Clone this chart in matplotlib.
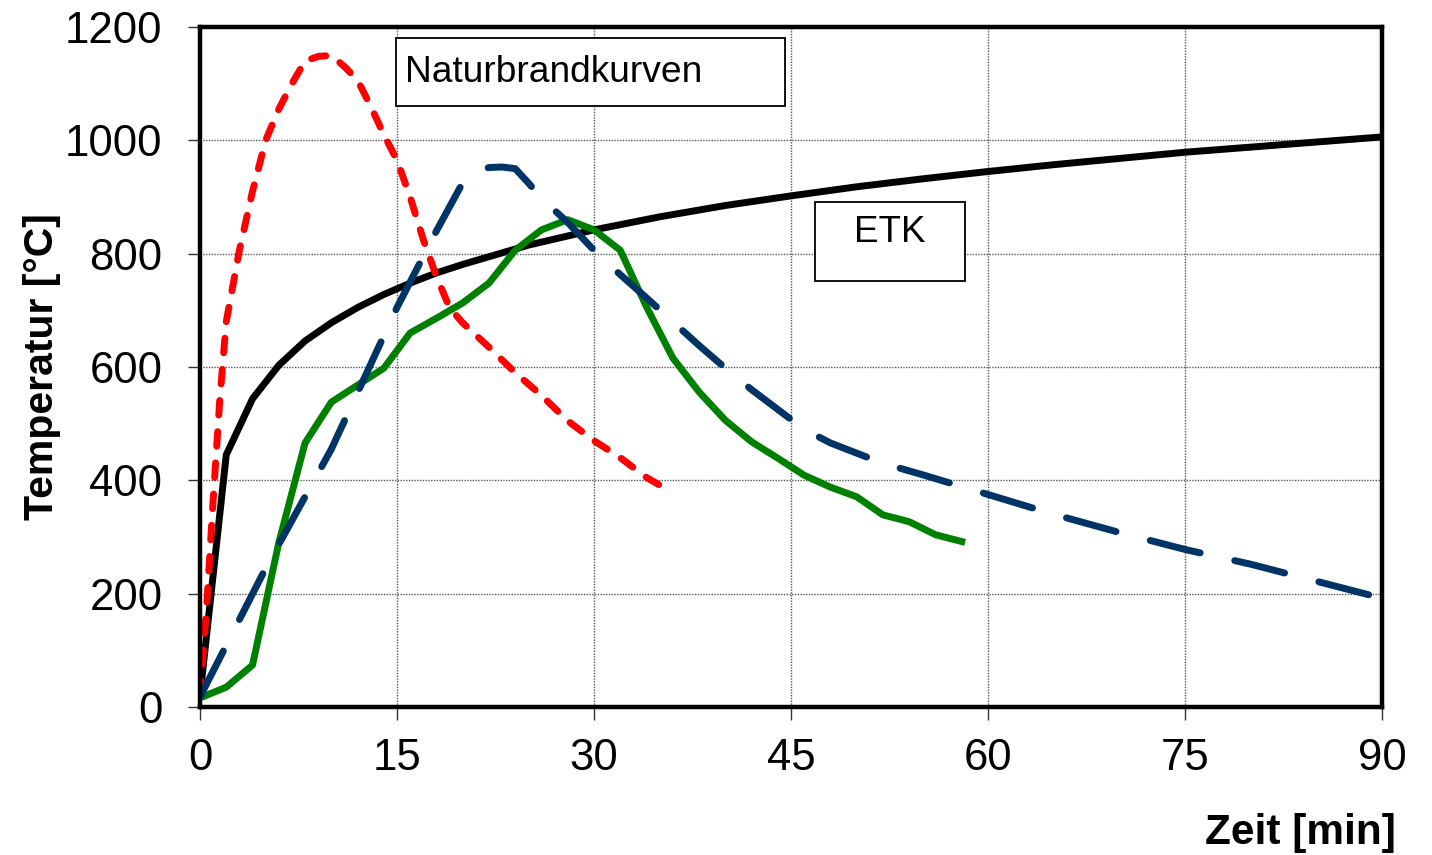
import matplotlib
matplotlib.use("Agg")
import matplotlib.pyplot as plt
from matplotlib.patches import Rectangle

# ---------------- data ----------------
etk_t = [0, 2, 4, 6, 8, 10, 12, 14, 16, 18, 20, 25, 30, 35, 40, 45, 50, 55, 60, 65, 70, 75, 80, 85, 90]
etk_T = [20, 445, 544, 603, 646, 678, 705, 728, 748, 766, 781, 815, 842, 865, 885, 902, 918, 932, 945, 957, 968, 979, 988, 997, 1006]

red_t = [0, 0.5, 1, 1.5, 2, 3, 4, 5, 6, 7, 8, 9, 10, 11, 12, 13, 14, 15, 16, 17, 18, 19, 20, 22, 24, 26, 28, 30, 32, 34, 36]
red_T = [20, 175, 365, 540, 680, 806, 910, 1000, 1055, 1100, 1140, 1148, 1150, 1130, 1106, 1060, 1010, 965, 900, 825, 760, 705, 678, 635, 590, 550, 505, 470, 440, 405, 378]

blue_t = [0, 5, 10, 15, 18, 20, 21, 22, 23, 24, 25, 26, 28, 30, 32, 34, 36, 38, 40, 42, 44, 46, 48, 50, 52, 55, 60, 65, 70, 75, 80, 85, 90]
blue_T = [18, 245, 455, 705, 840, 925, 945, 952, 953, 950, 925, 898, 855, 806, 763, 722, 680, 638, 598, 560, 525, 490, 466, 448, 430, 410, 375, 340, 308, 278, 252, 222, 192]

green_t = list(range(0, 60, 2))
green_T = [16, 35, 74, 290, 466, 538, 568, 598, 660, 686, 713, 748, 806, 842, 860,
           842, 806, 706, 616, 556, 506, 468, 439, 409, 388, 371, 339, 327, 304, 292]

x_ticks = [0, 15, 30, 45, 60, 75, 90]
y_ticks = [0, 200, 400, 600, 800, 1000, 1200]

label_box1 = "Naturbrandkurven"
label_box2 = "ETK"
xlabel = "Zeit [min]"
ylabel = "Temperatur [°C]"

# ---------------- figure ----------------
plt.rcParams['font.family'] = ['Liberation Sans', 'DejaVu Sans']
fig = plt.figure(figsize=(14.32, 8.55), dpi=100)
ax = fig.add_axes([200/1432, 1-707/855, 1182/1432, 680/855])

LW = 5.0
ax.plot(etk_t, etk_T, color='black', lw=LW, solid_joinstyle='round', zorder=3)
ax.plot(green_t, green_T, color='#008000', lw=LW, solid_joinstyle='round', zorder=4)
ax.plot(red_t, red_T, color='#FF0000', lw=LW, dashes=(2.1, 2.4),
        dash_capstyle='round', zorder=5)
ax.plot(blue_t, blue_T, color='#003366', lw=LW, dashes=(7.4, 5.1),
        dash_capstyle='round', zorder=6)

ax.set_xlim(0, 90)
ax.set_ylim(0, 1200)
ax.set_xticks(x_ticks)
ax.set_yticks(y_ticks)
ax.set_xticklabels([str(v) for v in x_ticks])
ax.set_yticklabels([str(v) for v in y_ticks])
ax.tick_params(axis='both', direction='out', length=9, width=1, color='#333333',
               labelsize=31.5, pad=13)
ax.tick_params(axis='y', pad=18)

ax.grid(True, color='#555555', linestyle=(0, (1, 1)), lw=1.0, zorder=1)
ax.set_axisbelow(True)
for sp in ax.spines.values():
    sp.set_linewidth(3.2)
    sp.set_color('black')
    sp.set_zorder(7)

# text boxes
ax.add_patch(Rectangle((14.92, 1060.6), 44.54-14.92, 1180.6-1060.6, fill=True,
                       facecolor='white', edgecolor='black', lw=1.3, zorder=8))
ax.text(15.6, 1120, label_box1, fontsize=26.7, ha='left', va='center', zorder=9)
ax.add_patch(Rectangle((46.83, 751.7), 58.25-46.83, 891-751.7, fill=True,
                       facecolor='white', edgecolor='black', lw=1.3, zorder=8))
ax.text(52.5, 838, label_box2, fontsize=26.5, ha='center', va='center', zorder=9)

lab_font = ['Liberation Sans Narrow', 'Liberation Sans', 'DejaVu Sans']
fig.text(42/1432, 1-367/855, ylabel, rotation=90, ha='center', va='center',
         fontsize=29.5, fontweight='bold', family=lab_font)
fig.text(1396/1432, 1-833/855, xlabel, ha='right', va='center',
         fontsize=30.5, fontweight='bold', family=lab_font)

fig.savefig('out.png', dpi=100)
